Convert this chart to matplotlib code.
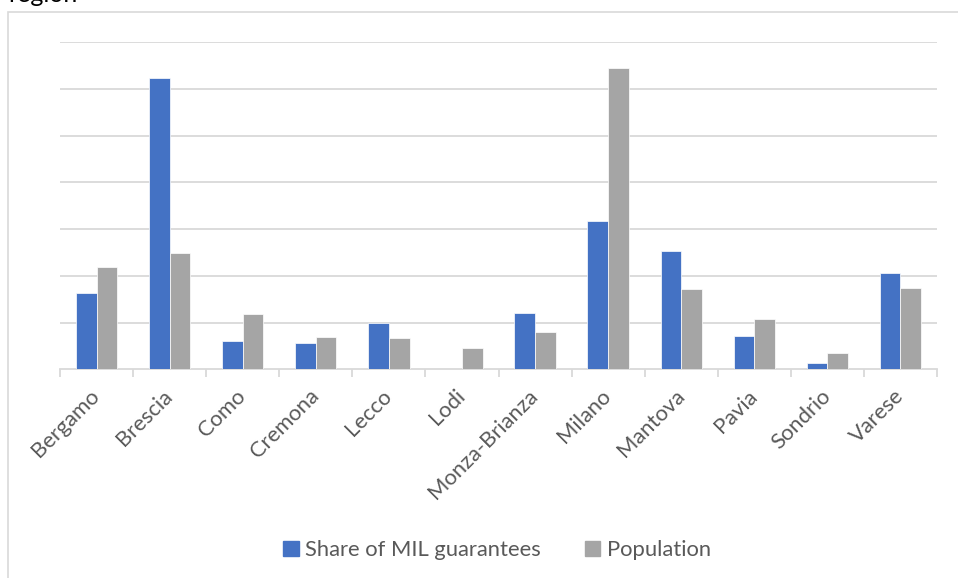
import matplotlib.pyplot as plt
import numpy as np
from matplotlib.patches import Rectangle, Patch

provinces = ['Bergamo', 'Brescia', 'Como', 'Cremona', 'Lecco', 'Lodi',
             'Monza-Brianza', 'Milano', 'Mantova', 'Pavia', 'Sondrio', 'Varese']
# shares in percent
mil_share = [8.2, 31.2, 3.0, 2.8, 5.0, 0.0, 6.0, 15.9, 12.7, 3.6, 0.7, 10.3]
population = [11.0, 12.5, 5.9, 3.5, 3.3, 2.25, 4.0, 32.3, 8.6, 5.35, 1.7, 8.7]

blue = '#4472C4'
grey = '#A5A5A5'
txt = '#595959'
line = '#D9D9D9'
font = 'Lato'
fs = 15.8

W, H = 958, 578
fig = plt.figure(figsize=(W / 100, H / 100), dpi=100)

# outer chart frame (runs off the right and bottom edges)
fig.patches.append(Rectangle((8 / W, -0.05), 1.0, 1 - 12 / H + 0.05,
                             transform=fig.transFigure, fill=False,
                             edgecolor=line, linewidth=1.2))
fig.text(8 / W, 1 - 2 / H, 'region', fontsize=18, family=font,
         color='black', ha='left', va='baseline')

ax = fig.add_axes([60 / W, 208.7 / H, (937 - 60) / W, (369.3 - 42.3) / H])
x = np.arange(len(provinces))
w = 0.283
ax.bar(x - w / 2, mil_share, w, color=blue, edgecolor='white', linewidth=0.5,
       zorder=3)
ax.bar(x + w / 2, population, w, color=grey, edgecolor='white', linewidth=0.5,
       zorder=3)

ax.set_xlim(-0.5, len(provinces) - 0.5)
ax.set_ylim(0, 35)
ax.set_yticks(np.arange(5, 36, 5))
ax.yaxis.grid(True, color=line, linewidth=1.3, zorder=0)
ax.tick_params(axis='y', length=0, labelleft=False)

for s in ['top', 'right', 'left']:
    ax.spines[s].set_visible(False)
ax.spines['bottom'].set_color(line)
ax.spines['bottom'].set_linewidth(1.3)

# category boundary ticks
ax.set_xticks(np.arange(-0.5, len(provinces)), minor=False)
ax.tick_params(axis='x', which='major', length=6, width=1.3, color=line,
               labelbottom=False)
ax.set_xticks(x, minor=True)
ax.set_xticklabels(provinces, minor=True, rotation=45, ha='right',
                   va='center', rotation_mode='anchor', fontsize=fs,
                   family=font, color=txt)
ax.tick_params(axis='x', which='minor', length=0, pad=17)

handles = [Patch(color=blue, label='Share of MIL guarantees'),
           Patch(color=grey, label='Population')]
leg = fig.legend(handles=handles, loc='center', bbox_to_anchor=(497 / W, 1 - 550 / H),
                 ncol=2, frameon=False, handlelength=0.7, handleheight=0.7,
                 handletextpad=0.3, columnspacing=2.0,
                 prop={'family': font, 'size': fs})
for t in leg.get_texts():
    t.set_color(txt)

fig.savefig('out.png', dpi=100)
